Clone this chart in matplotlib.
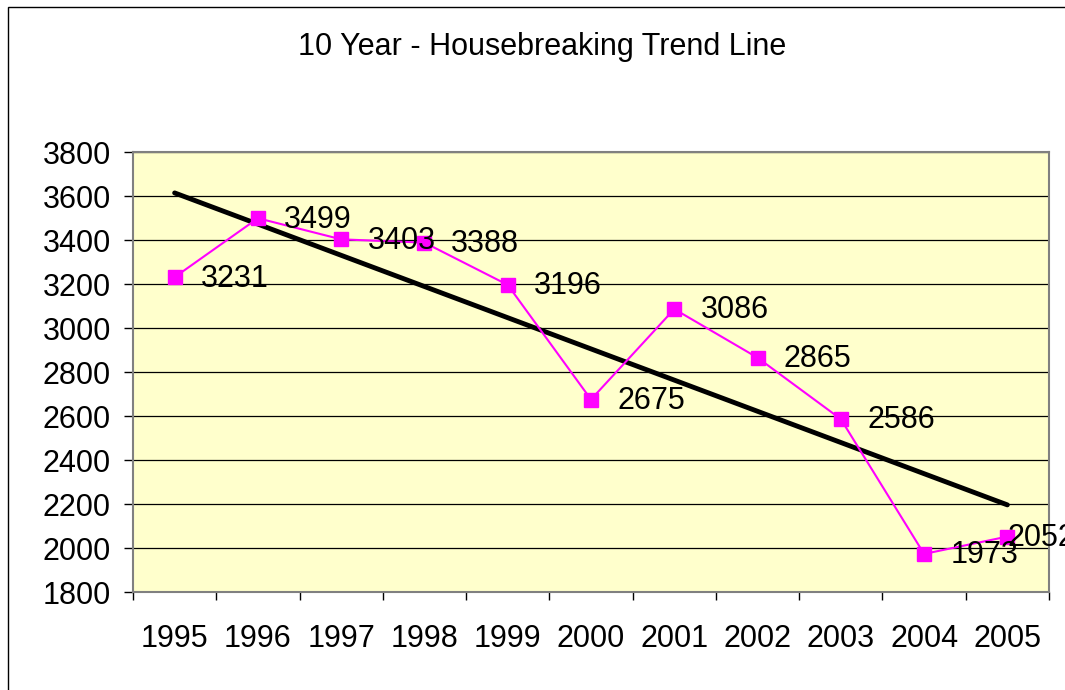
import matplotlib
matplotlib.use("Agg")
import matplotlib.pyplot as plt
from matplotlib.patches import Rectangle

plt.rcParams['font.family'] = ['Liberation Sans', 'DejaVu Sans']

years = ['1995', '1996', '1997', '1998', '1999', '2000', '2001', '2002', '2003', '2004', '2005']
values = [3231, 3499, 3403, 3388, 3196, 2675, 3086, 2865, 2586, 1973, 2052]
trend_years_idx = [0, 10]
trend_values = [3614, 2196]
yticks = [1800, 2000, 2200, 2400, 2600, 2800, 3000, 3200, 3400, 3600, 3800]

fig = plt.figure(figsize=(10.65, 6.9), dpi=100)
ax = fig.add_axes([133/1065, 1-592/690, (1049-133)/1065, (592-152)/690])
ax.set_facecolor('#FFFFCC')

x = list(range(len(years)))
ax.plot(trend_years_idx, trend_values, color='black', lw=3.5, solid_capstyle='round', zorder=3)
ax.plot(x, values, color='#FF00FF', lw=1.5, marker='s', markersize=10, zorder=4)

for i, (xi, v) in enumerate(zip(x, values)):
    dx = 19 if i < len(values) - 1 else 0
    ax.annotate(str(v), (xi, v), xytext=(dx, -1), textcoords='offset points',
                ha='left', va='center', fontsize=22, color='black', zorder=5,
                annotation_clip=False, clip_on=False)

ax.set_xlim(-0.5, 10.5)
ax.set_ylim(1800, 3800)
ax.set_yticks(yticks)
ax.set_yticklabels([str(t) for t in yticks])
ax.yaxis.grid(True, color='black', lw=0.9)
ax.set_axisbelow(True)

ax.set_xticks(x)
ax.set_xticklabels(years)
ax.set_xticks([i - 0.5 for i in range(len(years) + 1)], minor=True)
ax.tick_params(axis='x', which='major', length=0, pad=23, labelsize=22)
ax.tick_params(axis='x', which='minor', length=6, width=1, color='black', direction='out')
ax.tick_params(axis='y', length=6.5, width=1, color='black', direction='out', pad=9.5, labelsize=22)

for s in ax.spines.values():
    s.set_color('#808080')
    s.set_linewidth(1.5)

fig.text(542/1065, 1-47/690, '10 Year - Housebreaking Trend Line', ha='center', va='center', fontsize=22)

fig.patches.append(Rectangle((8/1065, -0.1), 1.2, 1-7/690 + 0.1, transform=fig.transFigure,
                             fill=False, edgecolor='black', lw=1))

fig.savefig('out.png', dpi=100)
